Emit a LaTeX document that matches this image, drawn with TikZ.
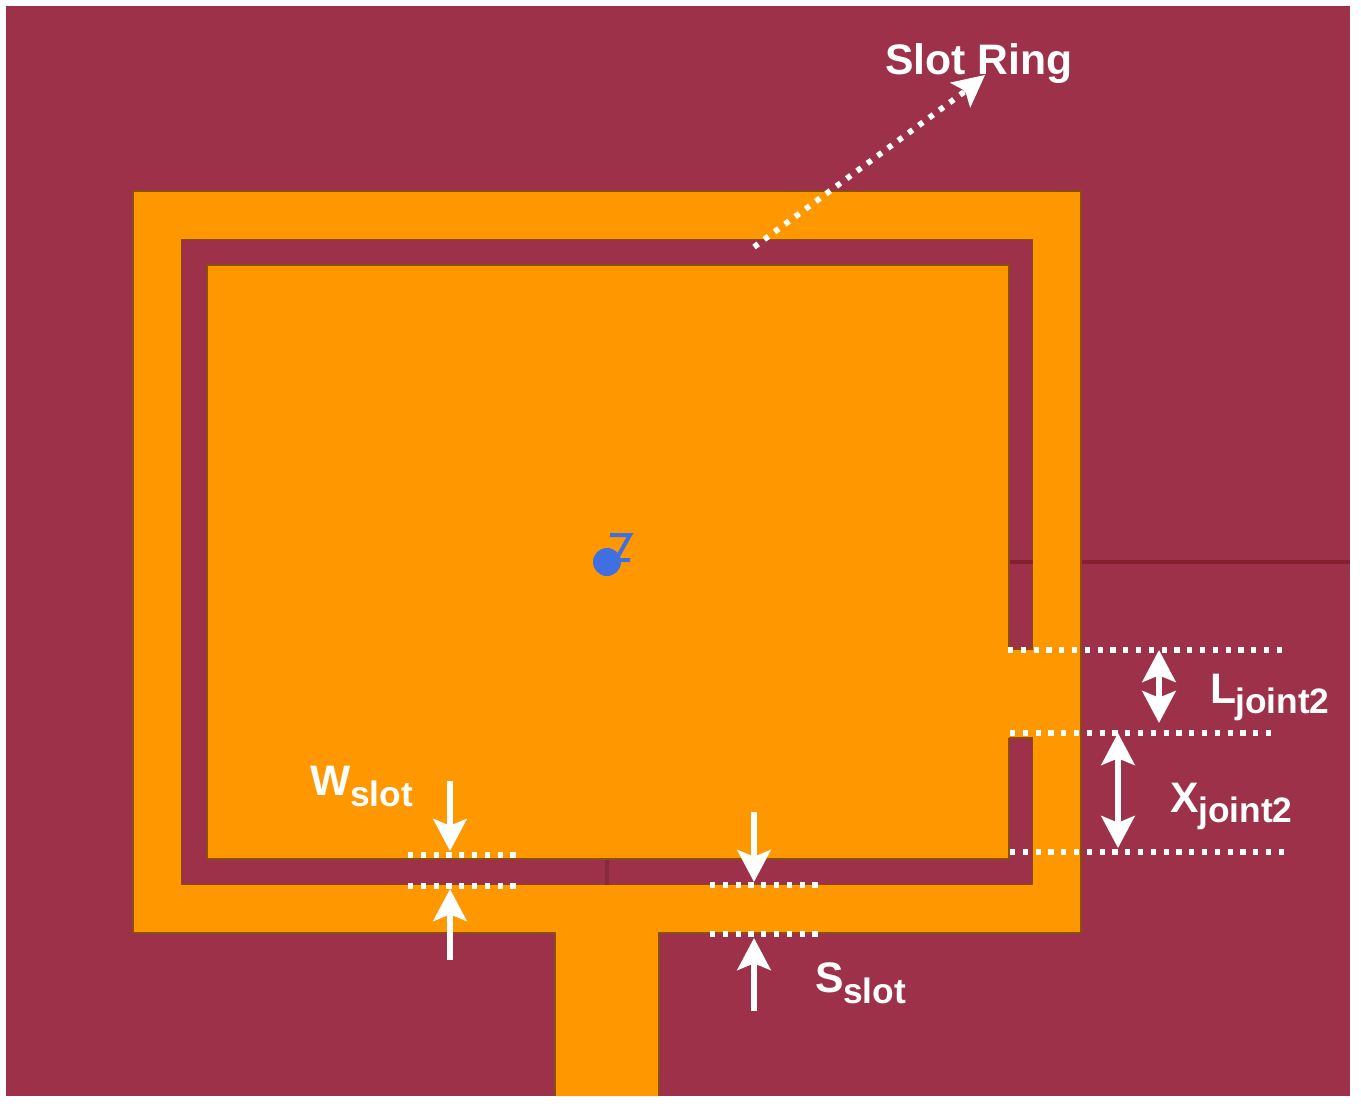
\documentclass[tikz,border=0pt]{standalone}
\usepackage{fontspec}
\setmainfont{Liberation Sans}
\usetikzlibrary{arrows.meta}
\definecolor{sub}{HTML}{9E314A}
\definecolor{metal}{HTML}{FF9800}
\definecolor{edge}{HTML}{8A4E08}
\definecolor{seam}{HTML}{84212F}
\definecolor{axis}{HTML}{3F6FE0}
\tikzset{
  x=0.75pt,y=-0.75pt,
  metalfill/.style={fill=metal,draw=edge,line width=1.3pt},
  slotfill/.style={fill=sub,draw=edge,line width=1.3pt},
  dotline/.style={draw=white,line width=4.3pt,dash pattern=on 3.9pt off 5.7pt},
  dimarrow/.style={draw=white,line width=4.3pt,arrows=-{Stealth[length=24pt,width=25pt,inset=5pt]}},
  dimarrows/.style={draw=white,line width=4.3pt,arrows={Stealth[length=24pt,width=25pt,inset=5pt]}-{Stealth[length=24pt,width=25pt,inset=5pt]}},
  lab/.style={text=white,inner sep=0pt,anchor=base west,font=\bfseries\fontsize{32}{36}\selectfont},
  sublab/.style={text=white,inner sep=0pt,anchor=base west,font=\bfseries\fontsize{26.5}{30}\selectfont},
}
\begin{document}
\begin{tikzpicture}
\useasboundingbox (0,0) rectangle (1361,1111);
\fill[white] (0,0) rectangle (1361,1111);
\fill[sub] (6,6) rectangle (1350,1096);
% seam in the ground plane
\draw[seam,line width=3pt] (1081,562) -- (1350,562);
% ring and feed
\fill[metal] (133,191) -- (1081,191) -- (1081,933) -- (659,933) -- (659,1096) -- (555,1096) -- (555,933) -- (133,933) -- cycle;
\draw[edge,line width=1.3pt] (555,1096) -- (555,933) -- (133,933) -- (133,191) -- (1081,191) -- (1081,933) -- (659,933) -- (659,1096);
% slot and patch
\draw[slotfill] (181.5,239.5) rectangle (1032.5,884.5);
\draw[seam,line width=3pt] (1009,562) -- (1033,562);
\draw[draw=sub!85!black,line width=3pt] (607,859) -- (607,885);
\draw[metalfill] (207,265) rectangle (1009,859);
% joint
\fill[metal] (1007,649) rectangle (1035,738);
\draw[edge,line width=1.3pt] (1009,649) -- (1033,649) (1009,738) -- (1033,738);
% axis symbol
\fill[axis] (607,562) circle[radius=14];
\draw[axis,line width=3pt] (610,535) -- (630,535) -- (617,558) (617,560) -- (630,560);
% coordinates
\coordinate (ringA) at (754,247);
\coordinate (ringB) at (964,92);
\coordinate (ringC) at (985,75);
\coordinate (la) at (1008,650); \coordinate (lb) at (1283,650);
\coordinate (ma) at (1010,733); \coordinate (mb) at (1272,733);
\coordinate (na) at (1010,852); \coordinate (nb) at (1285,852);
\coordinate (wa) at (408,855);  \coordinate (wb) at (517,855);
\coordinate (wc) at (408,886);  \coordinate (wd) at (516,886);
\coordinate (sa) at (710,885);  \coordinate (sb) at (818,885);
\coordinate (sc) at (710,934);  \coordinate (sd) at (818,934);
\coordinate (lt) at (1159,650); \coordinate (lu) at (1159,723);
\coordinate (xt) at (1118,733); \coordinate (xu) at (1118,848);
\coordinate (w1) at (450,781);  \coordinate (w2) at (450,851);
\coordinate (w3) at (450,960);  \coordinate (w4) at (450,889);
\coordinate (s1) at (754,812);  \coordinate (s2) at (754,882);
\coordinate (s3) at (754,1011); \coordinate (s4) at (754,938);
% dotted lines
\foreach \p/\q in {la/lb,ma/mb,na/nb,wa/wb,wc/wd,sa/sb,sc/sd,ringA/ringB}
  \draw[dotline] (\p) -- (\q);
% arrows
\draw[draw=white,line width=2pt,arrows=-{Stealth[length=24pt,width=24pt,inset=5pt]}] (ringB) -- (ringC);
\draw[dimarrows] (lt) -- (lu);
\draw[dimarrows] (xt) -- (xu);
\draw[dimarrow] (w1) -- (w2);
\draw[dimarrow] (w3) -- (w4);
\draw[dimarrow] (s1) -- (s2);
\draw[dimarrow] (s3) -- (s4);
% labels
\node[lab] (ringlab) at (885,74) {Slot Ring};
\node[lab] (w) at (310,795) {W};
\node[sublab] (wsub) at (350,806) {slot};
\node[lab] (s) at (815,992) {S};
\node[sublab] (ssub) at (843,1003) {slot};
\node[lab] (l) at (1210,703) {L};
\node[sublab] (lsub) at (1235,713) {joint2};
\node[lab] (x) at (1170,812) {X};
\node[sublab] (xsub) at (1198,822) {joint2};
\end{tikzpicture}
\end{document}
